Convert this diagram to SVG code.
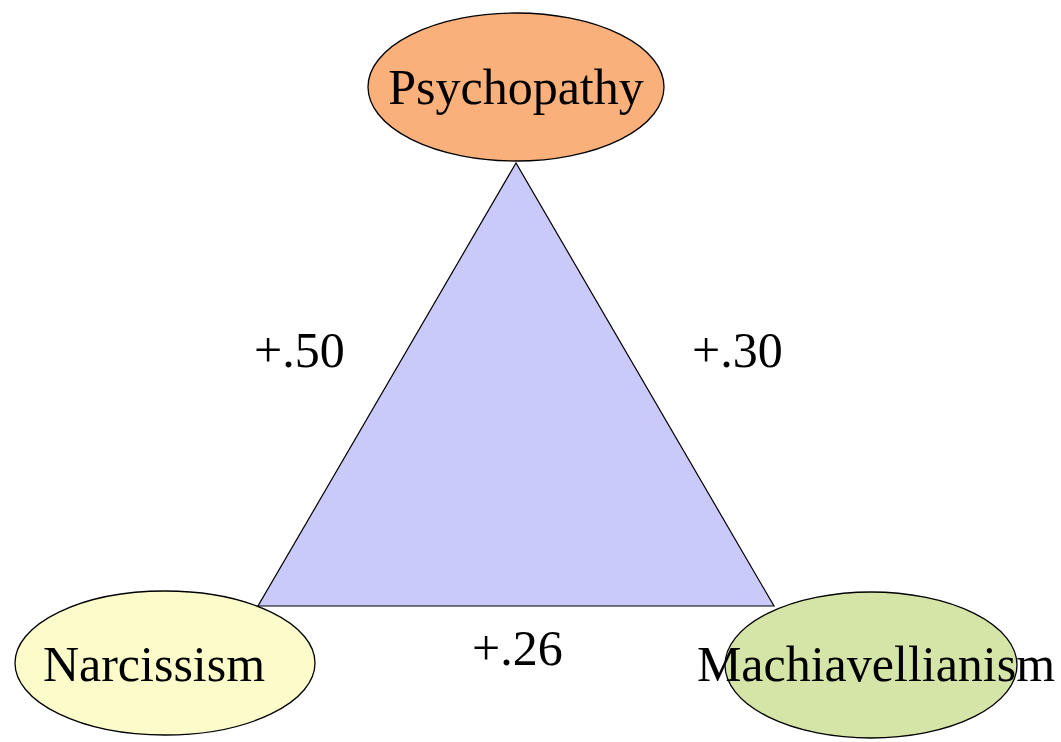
<svg xmlns="http://www.w3.org/2000/svg" width="1061" height="742" viewBox="0 0 1061 742">
  <style>
    .node { stroke: #000; stroke-width: 1.3; }
    .label { font-family: "Liberation Serif", "Times New Roman", serif; font-size: 50px; fill: #000; }
    .edge-label { font-family: "Liberation Serif", "Times New Roman", serif; font-size: 50px; fill: #000; }
    .tri { fill: #C9C9FA; stroke: #000; stroke-width: 1.2; stroke-linejoin: miter; }
  </style>
  <rect width="1061" height="742" fill="#FFFFFF"/>
  <g id="connectors">
    <polygon class="tri" points="516,163 258,606 774,606"/>
    <text class="edge-label" x="254" y="367">+.50</text>
    <text class="edge-label" x="692" y="367">+.30</text>
    <text class="edge-label" x="472" y="665">+.26</text>
  </g>
  <g id="psychopathy">
    <ellipse class="node" cx="516" cy="87" rx="148" ry="74" fill="#F9B07A"/>
    <text class="label" x="516" y="104" text-anchor="middle" fill="#1a0800">Psychopathy</text>
  </g>
  <g id="narcissism">
    <ellipse class="node" cx="165" cy="663" rx="150" ry="72" fill="#FCFCCB"/>
    <text class="label" x="154" y="681" text-anchor="middle">Narcissism</text>
  </g>
  <g id="machiavellianism">
    <ellipse class="node" cx="871" cy="665" rx="146" ry="73" fill="#D5E5A7"/>
    <text class="label" x="876" y="681" text-anchor="middle">Machiavellianism</text>
  </g>
</svg>
